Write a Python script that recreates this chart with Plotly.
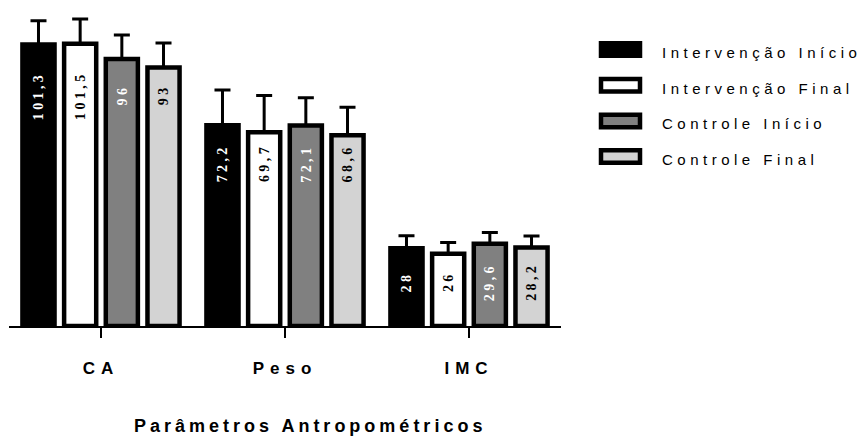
import plotly.graph_objects as go

# ---------------- data ----------------
categories = ["CA", "Peso", "IMC"]
series_names = ["Intervenção Início", "Intervenção Final", "Controle Início", "Controle Final"]

interv_inicio = [101.3, 72.2, 28.0]
interv_final = [101.5, 69.7, 26.0]
controle_inicio = [96.0, 72.1, 29.6]
controle_final = [93.0, 68.6, 28.2]

interv_inicio_sd = [8.5, 12.7, 4.5]
interv_final_sd = [8.9, 13.2, 4.0]
controle_inicio_sd = [8.7, 10.0, 4.0]
controle_final_sd = [8.8, 10.1, 4.2]

x_title = "Parâmetros Antropométricos"

series_values = [interv_inicio, interv_final, controle_inicio, controle_final]
series_sd = [interv_inicio_sd, interv_final_sd, controle_inicio_sd, controle_final_sd]

# ---------------- style ----------------
W, H = 864, 439
ML, MR, MT, MB = 9, 303, 10, 113
fills = ["#000000", "#ffffff", "#808080", "#d3d3d3"]
label_colors = ["#ffffff", "#000000", "#ffffff", "#000000"]
BORDER = 4.5
BARGAP = 0.094
BARGROUPGAP = 0.23
PX_PER_UNIT = 2.78

plot_w = W - ML - MR
plot_h = H - MT - MB
y_max = plot_h / PX_PER_UNIT
cat_px = plot_w / len(categories)
slot_px = cat_px * (1 - BARGAP) / len(series_names)


def fmt(v):
    return f"{v:g}".replace(".", ",")


fig = go.Figure()
for i, (name, vals, sd) in enumerate(zip(series_names, series_values, series_sd)):
    fig.add_trace(go.Bar(
        x=categories, y=vals, name=name,
        marker=dict(color=fills[i], line=dict(color="#000000", width=BORDER)),
        error_y=dict(type="data", array=sd, arrayminus=[0] * len(sd), symmetric=False,
                     color="#000000", thickness=3, width=8),
        showlegend=False,
    ))

annotations = []
# value labels inside bars
for ci, cat in enumerate(categories):
    group_min = min(s[ci] for s in series_values)
    for si in range(len(series_names)):
        v = series_values[si][ci]
        annotations.append(dict(
            x=cat, y=group_min - 10, xref="x", yref="y",
            xshift=(si - 1.5) * slot_px,
            text=fmt(v), showarrow=False, textangle=-90,
            xanchor="center", yanchor="middle",
            font=dict(family="Liberation Serif", size=14, color=label_colors[si], weight="bold"),
        ))

# manual legend
shapes = []
leg_top_px = 49.5
leg_step_px = 35.7
sw_x0, sw_x1 = 601, 640
txt_x = 660


def px_to_paper_x(px):
    return (px - ML) / plot_w


def px_to_paper_y(py):
    return (MT + plot_h - py) / plot_h


for si, name in enumerate(series_names):
    cy = leg_top_px + si * leg_step_px
    shapes.append(dict(
        type="rect", xref="paper", yref="paper",
        x0=px_to_paper_x(sw_x0), x1=px_to_paper_x(sw_x1),
        y0=px_to_paper_y(cy + 6.25), y1=px_to_paper_y(cy - 6.25),
        fillcolor=fills[si], line=dict(color="#000000", width=BORDER),
    ))
    annotations.append(dict(
        x=px_to_paper_x(txt_x), y=px_to_paper_y(cy + 3), xref="paper", yref="paper",
        text=name, showarrow=False, xanchor="left", yanchor="middle", align="left",
        font=dict(family="Liberation Sans", size=15, color="#000000"),
    ))

# axis title
annotations.append(dict(
    x=px_to_paper_x(310), y=0, xref="paper", yref="paper", yshift=-99.5,
    text=x_title, showarrow=False, xanchor="center", yanchor="middle",
    font=dict(family="Liberation Sans", size=18, color="#000000", weight="bold"),
))

fig.update_layout(
    width=W, height=H, autosize=False,
    margin=dict(l=ML, r=MR, t=MT, b=MB, pad=0),
    paper_bgcolor="#ffffff", plot_bgcolor="#ffffff",
    barmode="group", bargap=BARGAP, bargroupgap=BARGROUPGAP,
    showlegend=False,
    annotations=annotations, shapes=shapes,
    xaxis=dict(
        type="category", range=[-0.5, len(categories) - 0.5],
        showline=True, linecolor="#000000", linewidth=2,
        ticks="outside", ticklen=10, tickwidth=2, tickcolor="#000000",
        ticklabelstandoff=16,
        tickfont=dict(family="Liberation Sans", size=17, color="#000000", weight="bold"),
        showgrid=False, zeroline=False, fixedrange=True,
    ),
    yaxis=dict(range=[0, y_max], visible=False, showgrid=False, zeroline=False, fixedrange=True),
)

n_bar_labels = len(categories) * len(series_names)
css = ["html, body { margin: 0; padding: 0; overflow: hidden; }",
       ".xtick text { letter-spacing: 6px; }",
       ".annotation-text { letter-spacing: 3.4px; }"]
for k in range(len(series_names)):
    css.append('.annotation[data-index="%d"] .annotation-text { letter-spacing: 4.5px; }' % (n_bar_labels + k))
css.append('.annotation[data-index="%d"] .annotation-text { letter-spacing: 4px; }' % (n_bar_labels + len(series_names)))

post = "var st=document.createElement('style');st.textContent=%r;document.head.appendChild(st);" % "\n".join(css)

fig.write_html("out.html", post_script=post, config={"responsive": False, "displayModeBar": False})
